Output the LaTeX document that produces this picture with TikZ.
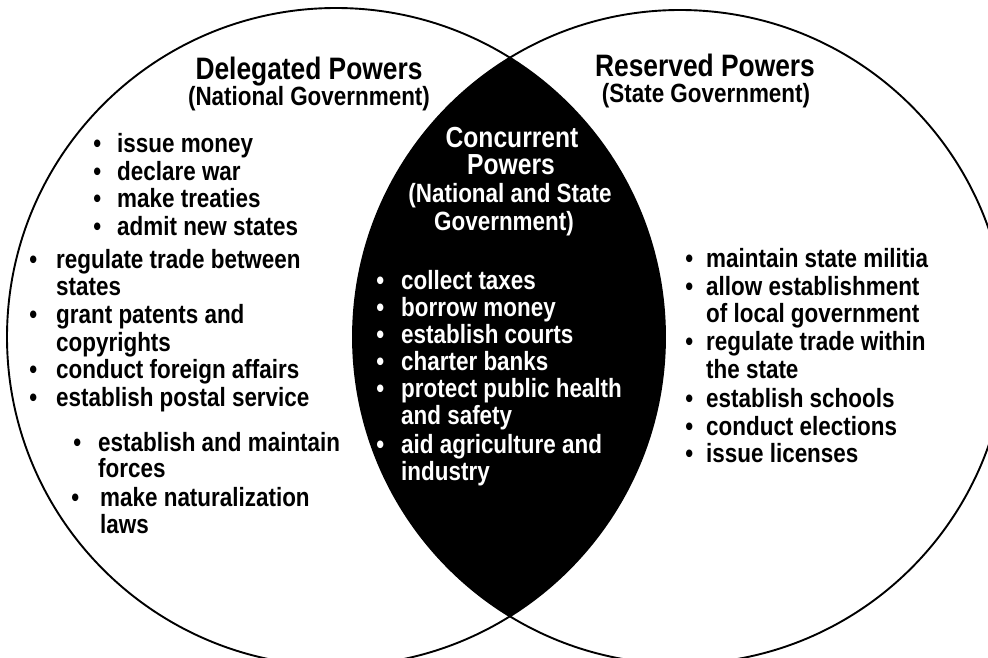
\documentclass[tikz,border=0pt]{standalone}
\usepackage{fontspec}
\newfontfamily\vfont{Liberation Sans}[FakeStretch=0.85]
% bullet hung to the left of the line start, #1 = gap to the text
\newcommand\bu[1][16pt]{\llap{\textbullet\hspace{#1}}}
\begin{document}
\begin{tikzpicture}[x=1pt,y=-1pt,
  body/.style={font=\vfont\bfseries\fontsize{26.4}{27.5}\selectfont, inner sep=0pt, anchor=base west},
  head/.style={font=\vfont\bfseries\fontsize{31}{32}\selectfont, inner sep=0pt, anchor=base},
  midhead/.style={font=\vfont\bfseries\fontsize{29}{30}\selectfont, inner sep=0pt, anchor=base, text=white},
  sub/.style={font=\vfont\bfseries\fontsize{26.4}{27.5}\selectfont, inner sep=0pt, anchor=base},
  ring/.style={line width=1.9pt, draw=black}]
\useasboundingbox (0,0) rectangle (988,658);
\clip (0,0) rectangle (988,658);

% shaded overlap of the two sets
\begin{scope}
  \clip (336,337) circle[radius=329pt];
  \fill[black] (680,337) circle[radius=327pt];
\end{scope}
\draw[ring] (336,337) circle[radius=329pt];
\draw[ring] (680,337) circle[radius=327pt];

% headings
\node[head] (dp) at (309,80) {Delegated Powers};
\node[sub]  (ng) at (309,106) {(National Government)};
\node[head] (rp) at (705,77) {Reserved Powers};
\node[sub]  (sg) at (706,103) {(State Government)};
\node[midhead] (cc) at (512,147) {Concurrent};
\node[midhead] (cp) at (511,175) {Powers};
\node[sub, text=white] (cn) at (510,202) {(National and State};
\node[sub, text=white] (cg) at (504,230) {Government)};

% delegated powers
\node[body] (d1) at (117,153) {\bu issue money};
\node[body] (d2) at (117,180) {\bu declare war};
\node[body] (d3) at (117,207) {\bu make treaties};
\node[body] (d4) at (117,235) {\bu admit new states};
\node[body] (d5) at (56,268) {\bu[19pt]regulate trade between};
\node[body] (d6) at (56,295) {states};
\node[body] (d7) at (56,323) {\bu[19pt]grant patents and};
\node[body] (d8) at (56,351) {copyrights};
\node[body] (d9) at (56,378) {\bu[19pt]conduct foreign affairs};
\node[body] (d10) at (56,406) {\bu[19pt]establish postal service};
\node[body] (d11) at (98,451) {\bu[17pt]establish and maintain};
\node[body] (d12) at (98,477) {forces};
\node[body] (d13) at (100,506) {\bu[21pt]make naturalization};
\node[body] (d14) at (100,533) {laws};

% concurrent powers
\begin{scope}[every node/.append style={text=white}]
\node[body] (c1) at (401,289) {\bu[17pt]collect taxes};
\node[body] (c2) at (401,316) {\bu[17pt]borrow money};
\node[body] (c3) at (401,343) {\bu[17pt]establish courts};
\node[body] (c4) at (401,370) {\bu[17pt]charter banks};
\node[body] (c5) at (401,397) {\bu[17pt]protect public health};
\node[body] (c6) at (401,424) {and safety};
\node[body] (c7) at (401,453) {\bu[17pt]aid agriculture and};
\node[body] (c8) at (401,480) {industry};
\end{scope}

% reserved powers
\node[body] (r1) at (706,267) {\bu[13pt]maintain state militia};
\node[body] (r2) at (706,295) {\bu[13pt]allow establishment};
\node[body] (r3) at (706,322) {of local government};
\node[body] (r4) at (706,350) {\bu[13pt]regulate trade within};
\node[body] (r5) at (706,378) {the state};
\node[body] (r6) at (706,407) {\bu[13pt]establish schools};
\node[body] (r7) at (706,435) {\bu[13pt]conduct elections};
\node[body] (r8) at (706,462) {\bu[13pt]issue licenses};
\end{tikzpicture}
\end{document}
